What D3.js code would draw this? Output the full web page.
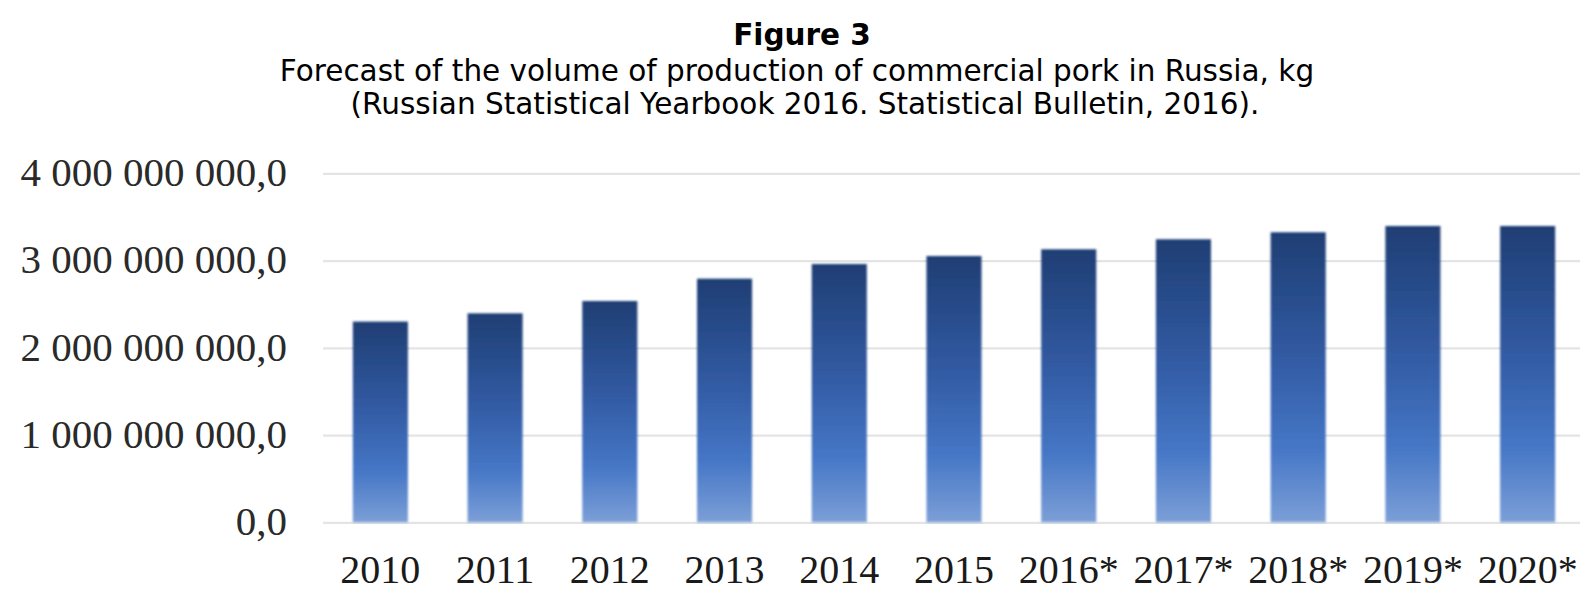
<!DOCTYPE html>
<html>
<head>
<meta charset="utf-8">
<script src="https://cdn.jsdelivr.net/npm/d3@7"></script>
<style>
  html, body { margin: 0; padding: 0; background: #ffffff; }
  svg { display: block; }
</style>
</head>
<body>
<svg id="chart" width="1580" height="591"></svg>
<script>
// Commercial pork production in Russia, kg (2016–2020 are forecasts)
const years = ["2010", "2011", "2012", "2013", "2014", "2015", "2016*", "2017*", "2018*", "2019*", "2020*"];
const production = [2300000000, 2395000000, 2536000000, 2792000000, 2960000000, 3052000000,
                    3129000000, 3244000000, 3324000000, 3396000000, 3396000000];
const yTicks = [0, 1000000000, 2000000000, 3000000000, 4000000000];
const titleLines = [
  "Figure 3",
  "Forecast of the volume of production of commercial pork in Russia, kg",
  "(Russian Statistical Yearbook 2016. Statistical Bulletin, 2016)."
];

const svg = d3.select("#chart");

const plot = { left: 323, right: 1585, top: 173.3, bottom: 522.3 };

const x = d3.scaleBand()
  .domain(years)
  .range([plot.left, plot.right])
  .paddingInner(0.52)
  .paddingOuter(0.26);

const y = d3.scaleLinear()
  .domain([0, 4000000000])
  .range([plot.bottom, plot.top]);

// Russian-style number format: space thousands separator, comma decimal
const ruFormat = d3.formatLocale({ decimal: ",", thousands: " ", grouping: [3], currency: ["", ""] }).format(",.1f");

// Vertical gradient for every bar: dark navy at top to light blue at bottom
const defs = svg.append("defs");
const grad = defs.append("linearGradient")
  .attr("id", "barGrad")
  .attr("x1", 0).attr("y1", 0).attr("x2", 0).attr("y2", 1);
[
  { o: 0,    c: "#1f3e74" },
  { o: 0.45, c: "#335ca5" },
  { o: 0.75, c: "#4677c6" },
  { o: 1,    c: "#7c9fd7" }
].forEach(s => grad.append("stop").attr("offset", s.o).attr("stop-color", s.c));

const blur = defs.append("filter").attr("id", "soft").attr("x", "-10%").attr("y", "-10%").attr("width", "120%").attr("height", "120%");
blur.append("feGaussianBlur").attr("stdDeviation", 0.8);

// Gridlines via the y axis
const yAxis = d3.axisLeft(y)
  .tickValues(yTicks)
  .tickSize(-(plot.right - plot.left))
  .tickFormat(ruFormat)
  .tickPadding(36);

const gy = svg.append("g")
  .attr("transform", `translate(${plot.left},0)`)
  .call(yAxis);
gy.select(".domain").remove();
gy.selectAll(".tick line")
  .attr("stroke", "#e4e4e4")
  .attr("stroke-width", 2.2);
gy.selectAll(".tick text")
  .attr("font-family", "'Liberation Serif', 'Times New Roman', serif")
  .attr("font-size", 41)
  .attr("fill", "#2a2a2a")
  .attr("dy", "0.3em");

// Bars
svg.append("g")
  .attr("filter", "url(#soft)")
  .selectAll("rect")
  .data(years.map((yr, i) => ({ yr, v: production[i] })))
  .join("rect")
  .attr("x", d => x(d.yr))
  .attr("width", x.bandwidth())
  .attr("y", d => y(d.v))
  .attr("height", d => y(0) - y(d.v))
  .attr("fill", "url(#barGrad)");

// Category axis labels
const xAxis = d3.axisBottom(x).tickSize(0).tickPadding(32);
const gx = svg.append("g")
  .attr("transform", `translate(0,${plot.bottom})`)
  .call(xAxis);
gx.select(".domain").remove();
gx.selectAll(".tick text")
  .attr("font-family", "'Liberation Serif', 'Times New Roman', serif")
  .attr("font-size", 40)
  .attr("fill", "#1a1a1a");

// Title block
const titleY = [45, 81, 114];
svg.append("g")
  .selectAll("text")
  .data(titleLines)
  .join("text")
  .attr("x", (d, i) => [802, 797, 805][i])
  .attr("y", (d, i) => titleY[i])
  .attr("text-anchor", "middle")
  .attr("font-family", "'DejaVu Sans', Verdana, sans-serif")
  .attr("font-weight", (d, i) => i === 0 ? "bold" : "normal")
  .attr("font-size", 29.5)
  .attr("fill", "#000")
  .text(d => d);
</script>
</body>
</html>
